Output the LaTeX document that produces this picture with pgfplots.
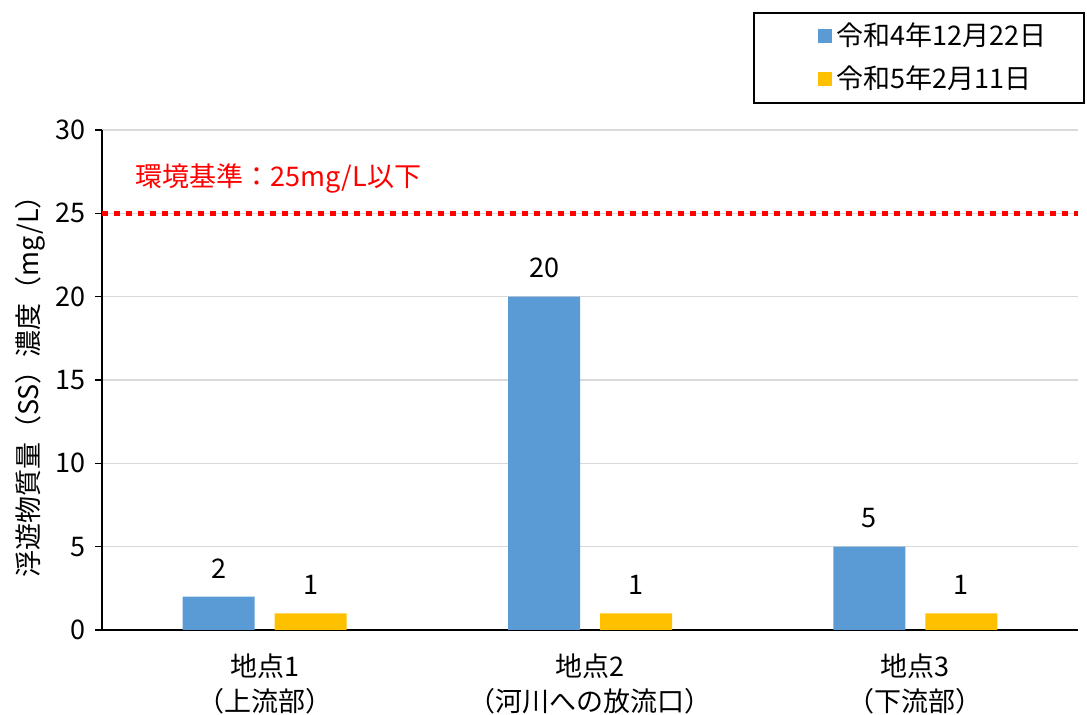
\documentclass[border=0pt]{standalone}
\usepackage{pgfplots}
\pgfplotsset{compat=1.18}
\usepackage{fontspec}
\setmainfont{Noto Sans CJK JP}
\definecolor{sBlue}{HTML}{5B9BD5}
\definecolor{sGold}{HTML}{FFC000}
\definecolor{gridgray}{HTML}{D9D9D9}
\newcommand{\chartfont}{\fontsize{13.5}{17.5}\selectfont}

\begin{document}
\chartfont
\begin{tikzpicture}
\useasboundingbox (-51pt,-42.5pt) rectangle (492.5pt,315pt);
\begin{axis}[
  width=488pt, height=250pt, scale only axis,
  /pgf/number format/assume math mode=true,
  ybar, bar width=36pt,
  xmin=-0.5, xmax=2.5,
  ymin=0, ymax=30,
  ytick={0,5,...,30},
  xtick={0,1,2},
  xticklabels={{地点1\\（上流部）},{地点2\\（河川への放流口）},{地点3\\（下流部）}},
  xticklabel style={align=center, font=\chartfont, yshift=-3.5pt},
  yticklabel style={font=\chartfont},
  xtick style={draw=none},
  extra x ticks={0.5,1.5,2.5},
  extra x tick labels={},
  extra x tick style={tick align=inside, major tick length=3.5pt,
    tick style={black, line width=0.75pt}},
  tick align=outside, major tick length=3.5pt,
  ytick style={black, line width=0.75pt},
  axis x line*=bottom, axis y line*=left,
  axis line style={black, line width=1pt},
  ymajorgrids, grid style={gridgray, line width=0.75pt},
  ylabel={浮遊物質量（SS）濃度（mg/L）},
  every axis y label/.style={at={(rel axis cs:-0.0738,0.5)}, rotate=90, anchor=center, font=\chartfont},
  nodes near coords,
  every node near coord/.append style={font=\chartfont, black, yshift=4.5pt},
  legend style={at={(rel axis cs:1.0072,1.236)}, anchor=north east,
    draw=black, line width=1pt, font=\chartfont,
    inner xsep=8pt, inner ysep=3pt, row sep=4pt},
  legend cell align=left,
]
\addplot[fill=sBlue, draw=none, bar shift=-23pt,
  legend image code/.code={\path (-24pt,0); \fill[sBlue] (0pt,-3.5pt) rectangle (7pt,3.5pt);}]
  coordinates {(0,2) (1,20) (2,5)};
\addplot[fill=sGold, draw=none, bar shift=23pt,
  legend image code/.code={\path (-24pt,0); \fill[sGold] (0pt,-3.5pt) rectangle (7pt,3.5pt);}]
  coordinates {(0,1) (1,1) (2,1)};
\legend{令和4年12月22日\hspace*{9pt},令和5年2月11日}
\addplot[sharp plot, forget plot, red, line width=2.5pt, dash pattern=on 3pt off 3pt, nodes near coords=]
  coordinates {(-0.5,25) (2.5,25)};
\node[anchor=west, inner sep=0pt, text=red, font=\chartfont] at (rel axis cs:0.0338,0.904) {環境基準：25mg/L以下};
\end{axis}
\end{tikzpicture}
\end{document}
